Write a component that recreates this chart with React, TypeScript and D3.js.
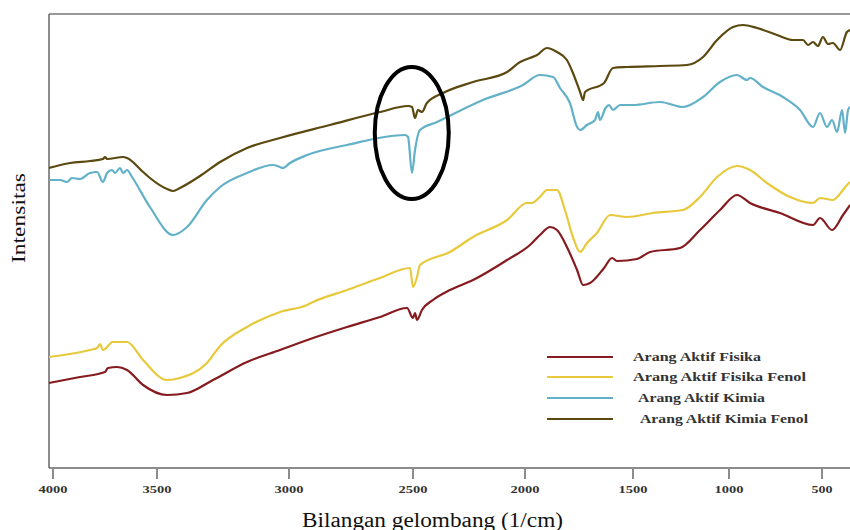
import React from "react";
import * as d3 from "d3";

// wavenumber (1/cm), intensity (a.u.)
const fisika: [number, number][] = [
  [4019, 85], [3870, 91], [3750, 96], [3736, 100], [3692, 101], [3644, 98], [3567, 83], [3462, 73],
  [3386, 75], [3288, 88], [3159, 106], [3034, 118], [2903, 130], [2766, 141], [2633, 151], [2524, 160],
  [2500, 150], [2491, 155], [2482, 148], [2460, 158], [2411, 168], [2335, 178], [2232, 188], [2080, 208],
  [1977, 223], [1931, 233], [1884, 241], [1852, 238], [1806, 221], [1759, 198], [1731, 183], [1699, 185],
  [1634, 200], [1597, 210], [1574, 207], [1479, 209], [1411, 216], [1255, 220], [1151, 238], [1047, 258],
  [957, 273], [887, 265], [726, 255], [548, 243], [511, 250], [446, 238], [387, 253], [349, 263],
];

const fisikaFenol: [number, number][] = [
  [4019, 111], [3822, 118], [3788, 120], [3774, 124], [3760, 118], [3712, 126], [3644, 126], [3567, 108],
  [3462, 88], [3413, 90], [3311, 105], [3261, 122], [3159, 141], [3034, 156], [2927, 163], [2903, 166],
  [2766, 178], [2633, 190], [2512, 200], [2500, 181], [2482, 191], [2469, 203], [2335, 216], [2232, 231],
  [2080, 248], [1991, 265], [1968, 265], [1931, 271], [1898, 278], [1852, 278], [1815, 258], [1778, 231],
  [1745, 216], [1713, 225], [1667, 235], [1606, 253], [1528, 251], [1396, 255], [1240, 258], [1151, 271],
  [1062, 291], [957, 302], [887, 298], [796, 285], [672, 271], [548, 265], [511, 270], [441, 268],
  [387, 278], [366, 283], [349, 286],
];

const kimia: [number, number][] = [
  [4019, 288], [3966, 288], [3933, 286], [3909, 290], [3870, 289], [3822, 295], [3788, 296], [3760, 286],
  [3740, 295], [3716, 298], [3702, 295], [3678, 300], [3663, 295], [3644, 298], [3620, 291], [3534, 261],
  [3439, 233], [3386, 241], [3311, 268], [3261, 281], [3159, 295], [3061, 303], [3034, 301], [3023, 300],
  [2996, 305], [2927, 313], [2766, 323], [2532, 333], [2520, 331], [2504, 295], [2491, 318], [2469, 338],
  [2393, 346], [2188, 368], [2009, 383], [1931, 393], [1870, 391], [1838, 380], [1792, 365], [1759, 341],
  [1745, 338], [1713, 343], [1676, 348], [1662, 356], [1653, 348], [1627, 360], [1611, 363], [1593, 358],
  [1560, 363], [1500, 363], [1359, 366], [1240, 361], [1135, 371], [1047, 386], [957, 393], [903, 388],
  [887, 390], [817, 381], [710, 371], [618, 358], [548, 341], [511, 355], [473, 341], [446, 348],
  [419, 336], [392, 358], [376, 335], [360, 358], [349, 361],
];

const kimiaFenol: [number, number][] = [
  [4019, 300], [3918, 305], [3822, 307], [3760, 309], [3750, 311], [3740, 309], [3663, 311], [3644, 310],
  [3567, 296], [3534, 290], [3462, 279], [3439, 277], [3413, 280], [3337, 292], [3261, 306], [3159, 320],
  [3034, 330], [2835, 343], [2633, 356], [2520, 362], [2504, 361], [2491, 350], [2478, 358], [2460, 356],
  [2438, 365], [2366, 375], [2232, 386], [2080, 396], [2022, 406], [1977, 410], [1944, 413], [1898, 420],
  [1852, 416], [1806, 408], [1778, 395], [1745, 376], [1731, 368], [1722, 376], [1634, 385], [1593, 400],
  [1528, 401], [1359, 402], [1219, 403], [1135, 411], [1062, 428], [978, 441], [925, 443], [849, 440],
  [742, 433], [656, 428], [602, 428], [575, 423], [548, 426], [522, 422], [495, 431], [468, 424],
  [441, 425], [403, 418], [366, 436], [349, 438],
];

const seriesNames = [
  "Arang Aktif Fisika",
  "Arang Aktif Fisika Fenol",
  "Arang Aktif Kimia",
  "Arang Aktif Kimia Fenol",
];
const seriesColors = ["#851b1f", "#e8c93c", "#62b1c8", "#5b4910"];
const seriesData = [fisika, fisikaFenol, kimia, kimiaFenol];

const xTicks = [4000, 3500, 3000, 2500, 2000, 1500, 1000, 500];
const xTitle = "Bilangan gelombang (1/cm)";
const yTitle = "Intensitas";
const highlight: [number, number] = [2505, 335];

// layout (the original axis is unevenly spaced)
const tickPixels = [53, 157, 289, 413, 525, 633, 729, 822];
const frame = { left: 49, top: 14, right: 850, bottom: 468 };

export default function App() {
  const x = d3.scaleLinear().domain(xTicks).range(tickPixels);
  const y = d3.scaleLinear().domain([0, 454]).range([frame.bottom, frame.top]);
  const line = d3
    .line<[number, number]>()
    .x((d) => x(d[0]))
    .y((d) => y(d[1]))
    .curve(d3.curveMonotoneX);

  const legendRows = [357, 377, 398, 419];
  const legendTextX = [633, 633, 638, 640];
  const legendTextW = [128, 173, 127, 168];

  return (
    <svg
      width={850}
      height={530}
      style={{ position: "absolute", left: 0, top: 0, background: "#fff" }}
      fontFamily="'Liberation Serif', 'Times New Roman', serif"
    >
      <defs>
        <clipPath id="plot">
          <rect x={frame.left} y={0} width={frame.right - frame.left} height={frame.bottom} />
        </clipPath>
      </defs>
      {/* frame */}
      <line x1={frame.left} x2={frame.right} y1={frame.top} y2={frame.top} stroke="#777" strokeWidth={1.5} />
      <line x1={frame.left} x2={frame.left} y1={frame.top} y2={frame.bottom} stroke="#666" strokeWidth={1.5} />
      <line x1={frame.left} x2={frame.right} y1={frame.bottom} y2={frame.bottom} stroke="#666" strokeWidth={1.5} />

      {/* ticks */}
      {xTicks.map((t) => (
        <g key={t} transform={`translate(${x(t)},0)`}>
          <line y1={frame.bottom + 1} y2={frame.bottom + 11} stroke="#666" strokeWidth={1.5} />
          <text
            y={frame.bottom + 25}
            textAnchor="middle"
            fontSize={11}
            fontWeight="bold"
            fill="#333"
            textLength={t >= 1000 ? 29 : 21}
            lengthAdjust="spacingAndGlyphs"
          >
            {t}
          </text>
        </g>
      ))}

      {/* series */}
      <g clipPath="url(#plot)">
        {seriesData.map((s, i) => (
          <path key={i} d={line(s) ?? ""} fill="none" stroke={seriesColors[i]} strokeWidth={2.2} strokeLinejoin="round" />
        ))}
      </g>

      {/* highlight */}
      <ellipse cx={x(highlight[0])} cy={y(highlight[1])} rx={37} ry={66} fill="none" stroke="#000" strokeWidth={4} />

      {/* legend */}
      {seriesNames.map((n, i) => (
        <g key={n}>
          <line x1={547} x2={613} y1={legendRows[i]} y2={legendRows[i]} stroke={seriesColors[i]} strokeWidth={2.2} />
          <text
            x={legendTextX[i]}
            y={legendRows[i] + 4}
            fontSize={12.5}
            fontWeight="bold"
            fill="#333"
            textLength={legendTextW[i]}
            lengthAdjust="spacingAndGlyphs"
          >
            {n}
          </text>
        </g>
      ))}

      {/* titles */}
      <text x={302} y={527} fontSize={20} fill="#111" textLength={261} lengthAdjust="spacingAndGlyphs">
        {xTitle}
      </text>
      <text
        transform="translate(25,218) rotate(-90)"
        textAnchor="middle"
        fontSize={19}
        fill="#111"
        textLength={90}
        lengthAdjust="spacingAndGlyphs"
      >
        {yTitle}
      </text>
    </svg>
  );
}
